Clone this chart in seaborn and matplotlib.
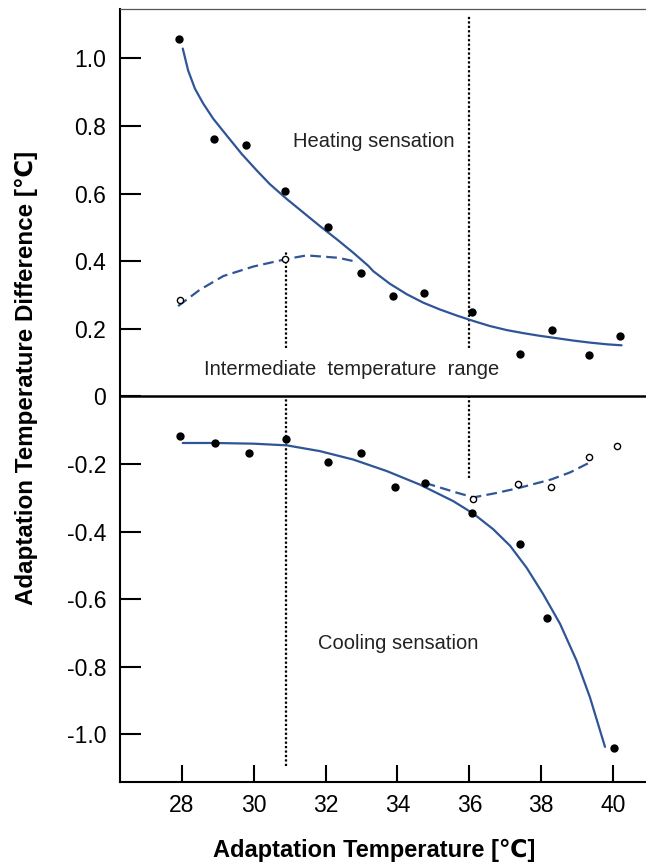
import matplotlib
matplotlib.use("Agg")
import matplotlib.pyplot as plt
import seaborn as sns
import pandas as pd

sns.set_theme(style="white")
plt.rcParams['font.family'] = ['Liberation Sans', 'DejaVu Sans']

# ---- data ----
heat_x = [27.93, 28.91, 29.79, 30.88, 32.06, 32.98, 33.88, 34.74, 36.08, 37.41, 38.29, 39.33, 40.19]
heat_y = [1.056, 0.762, 0.745, 0.609, 0.501, 0.364, 0.298, 0.305, 0.250, 0.125, 0.197, 0.121, 0.180]

heat_open_x = [27.95, 30.88]
heat_open_y = [0.285, 0.406]

heat_fit_x = [28.03, 28.18, 28.37, 28.60, 28.88, 29.25, 29.67, 30.09, 30.45, 30.92, 31.38, 31.84,
              32.31, 32.77, 33.19, 33.33, 33.79, 34.26, 34.72, 35.18, 35.65, 36.11, 36.57, 37.04,
              37.50, 37.96, 38.43, 38.89, 39.35, 39.82, 40.23]
heat_fit_y = [1.029, 0.964, 0.910, 0.866, 0.821, 0.772, 0.717, 0.668, 0.628, 0.584, 0.544, 0.504,
              0.465, 0.425, 0.386, 0.370, 0.333, 0.302, 0.277, 0.257, 0.239, 0.223, 0.208, 0.196,
              0.187, 0.179, 0.172, 0.165, 0.159, 0.154, 0.151]

heat_dash_x = [27.9, 28.5, 29.16, 29.99, 30.90, 31.47, 32.35, 32.87]
heat_dash_y = [0.267, 0.315, 0.356, 0.384, 0.406, 0.417, 0.410, 0.398]

cool_x = [27.96, 28.93, 29.88, 30.90, 32.06, 32.98, 33.92, 34.76, 36.08, 37.41, 38.15, 40.02]
cool_y = [-0.116, -0.138, -0.167, -0.125, -0.195, -0.167, -0.268, -0.255, -0.345, -0.438, -0.655, -1.041]

cool_open_x = [36.11, 37.34, 38.27, 39.32, 40.09]
cool_open_y = [-0.303, -0.259, -0.267, -0.179, -0.146]

cool_fit_x = [28.03, 28.93, 29.99, 30.92, 31.84, 32.77, 33.70, 34.62, 35.55, 36.11, 36.66, 37.13,
              37.59, 38.05, 38.52, 38.98, 39.35, 39.77]
cool_fit_y = [-0.138, -0.138, -0.140, -0.145, -0.162, -0.187, -0.221, -0.261, -0.310, -0.347, -0.393, -0.442,
              -0.507, -0.585, -0.673, -0.782, -0.890, -1.037]

cool_dash_x = [34.76, 35.65, 36.11, 36.7, 37.34, 38.27, 38.8, 39.32]
cool_dash_y = [-0.256, -0.285, -0.299, -0.287, -0.272, -0.246, -0.225, -0.197]

vline_x = [30.9, 36.0]
vline_upper = [(0.143, 0.43), (0.143, 1.124)]
vline_lower = [(-1.095, 0.0), (-0.242, 0.0)]

xticks = [28, 30, 32, 34, 36, 38, 40]
yticks = [-1.0, -0.8, -0.6, -0.4, -0.2, 0.0, 0.2, 0.4, 0.6, 0.8, 1.0]
ytick_labels = ['-1.0', '-0.8', '-0.6', '-0.4', '-0.2', '0', '0.2', '0.4', '0.6', '0.8', '1.0']

annotations = [
    ("Heating sensation", 33.33, 0.754),
    ("Intermediate  temperature  range", 32.72, 0.08),
    ("Cooling sensation", 34.03, -0.73),
]

# ---- figure ----
W, H = 646, 864
fig = plt.figure(figsize=(W / 100, H / 100), dpi=100)
ax = fig.add_axes([120 / W, (H - 782) / H, (W - 120) / W, 773 / H])

blue = '#2F5597'
dash = (0, (4.8, 2.4))
dot = (0, (1, 1))

for fx, fy, ls in [(heat_fit_x, heat_fit_y, '-'), (cool_fit_x, cool_fit_y, '-'),
                   (heat_dash_x, heat_dash_y, dash), (cool_dash_x, cool_dash_y, dash)]:
    df = pd.DataFrame({'x': fx, 'y': fy})
    sns.lineplot(data=df, x='x', y='y', ax=ax, color=blue, lw=1.6, sort=False,
                 estimator=None, linestyle=ls, zorder=3)

sns.scatterplot(x=heat_x + cool_x, y=heat_y + cool_y, ax=ax, color='black',
                s=36, edgecolor='black', linewidth=0, zorder=5)
sns.scatterplot(x=heat_open_x + cool_open_x, y=heat_open_y + cool_open_y, ax=ax,
                facecolor='white', edgecolor='black', s=20, linewidth=1.0, zorder=5)

for xv, (a, b), (c, d) in zip(vline_x, vline_upper, vline_lower):
    ax.plot([xv, xv], [a, b], color='black', lw=1.6, linestyle=dot, zorder=2)
    ax.plot([xv, xv], [c, d], color='black', lw=1.6, linestyle=dot, zorder=2)

ax.axhline(0, color='black', lw=1.8, zorder=4)

for txt, tx, ty in annotations:
    ax.text(tx, ty, txt, ha='center', va='center', fontsize=14.5, color='#222222')

ax.set_xlim(26.285, 40.91)
ax.set_ylim(-1.141, 1.146)
ax.set_xticks(xticks)
ax.set_xticklabels([str(t) for t in xticks])
ax.set_yticks(yticks)
ax.set_yticklabels(ytick_labels)
ax.tick_params(axis='y', direction='in', length=15, width=1.5, pad=10,
               labelsize=16.5, colors='black', left=True)
ax.tick_params(axis='x', direction='in', length=12, width=1.5, pad=9,
               labelsize=16.5, colors='black', bottom=True)

ax.spines['right'].set_visible(False)
ax.spines['left'].set_linewidth(1.5)
ax.spines['left'].set_color('black')
ax.spines['bottom'].set_linewidth(1.5)
ax.spines['bottom'].set_color('black')
ax.spines['top'].set_linewidth(0.9)
ax.spines['top'].set_color('#555555')

ax.set_xlabel('Adaptation Temperature [℃]', fontsize=17, fontweight='bold', color='black')
ax.set_ylabel('Adaptation Temperature Difference [℃]', fontsize=17.4, fontweight='bold', color='black')
ax.xaxis.set_label_coords((374 - 120) / 526, -(850 - 782) / 773)
ax.yaxis.set_label_coords((26 - 120) / 526, (782 - 378) / 773)
ax.xaxis.label.set_va('center')
ax.yaxis.label.set_va('center')
ax.set_facecolor('white')

fig.savefig('out.png', dpi=100, facecolor='white')
